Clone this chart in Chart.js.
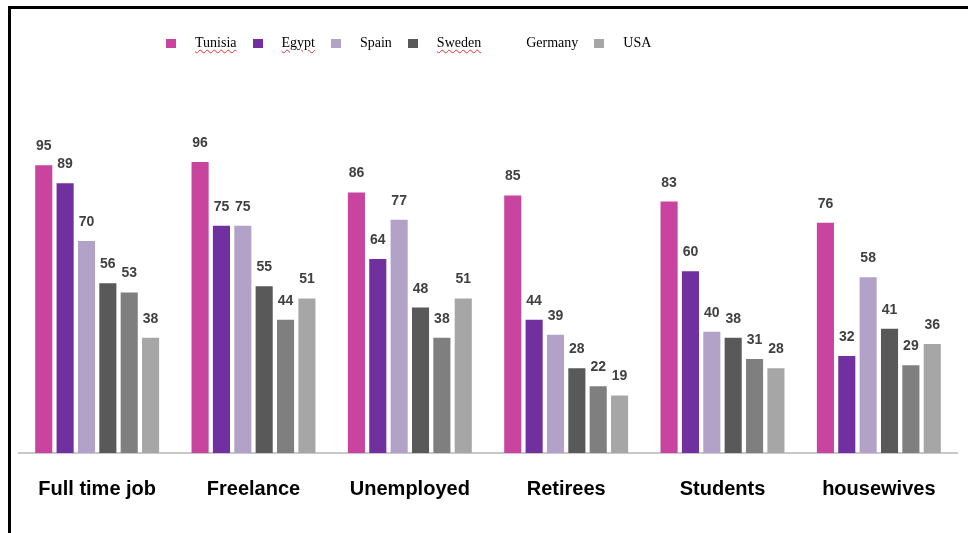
<!DOCTYPE html>
<html>
<head>
<meta charset="utf-8">
<script src="https://cdn.jsdelivr.net/npm/chart.js@4"></script>
<style>
  body { margin: 0; background: #fff; }
  #wrap { position: relative; width: 968px; height: 533px; overflow: hidden; }
  #frame { position: absolute; left: 8px; top: 6px; width: 980px; height: 540px;
           border-top: 3px solid #000; border-left: 3px solid #000; box-sizing: border-box; }
  #legend { position: absolute; left: 166px; top: 35px; display: flex; align-items: center;
            font: 14px "Liberation Serif", serif; color: #000; }
  .item { display: flex; align-items: center; margin-right: 16px; }
  .swatch { width: 10px; height: 9px; margin-right: 19px; }
  .squiggle { text-decoration: underline wavy #e03030; text-decoration-thickness: 1px; text-underline-offset: 2px; }
</style>
</head>
<body>
<div id="wrap">
  <canvas id="myChart"></canvas>
  <div id="frame"></div>
  <div id="legend"></div>
</div>
<script>
const categories = ['Full time job', 'Freelance', 'Unemployed', 'Retirees', 'Students', 'housewives']
const countries = ['Tunisia', 'Egypt', 'Spain', 'Sweden', 'Germany', 'USA']
const colors = ['#c8449f', '#7030a0', '#b3a2c7', '#595959', '#7f7f7f', '#a6a6a6']
// germany's key has no visible swatch in the legend
const swatchColors = ['#c8449f', '#7030a0', '#b3a2c7', '#595959', '#ffffff', '#a6a6a6']
const underlined = ['Tunisia', 'Egypt', 'Sweden']

const tunisia = [95, 96, 86, 85, 83, 76]
const egypt = [89, 75, 64, 44, 60, 32]
const spain = [70, 75, 77, 39, 40, 58]
const sweden = [56, 55, 48, 28, 38, 41]
const germany = [53, 44, 38, 22, 31, 29]
const usa = [38, 51, 51, 19, 28, 36]
const seriesValues = [tunisia, egypt, spain, sweden, germany, usa]

// numbers above each bar
const valueLabels = {
  id: 'valueLabels',
  afterDatasetsDraw(chart) {
    const ctx = chart.ctx
    ctx.save()
    ctx.font = 'bold 14px "Liberation Sans"'
    ctx.fillStyle = '#404040'
    ctx.textAlign = 'center'
    chart.data.datasets.forEach((ds, i) => {
      chart.getDatasetMeta(i).data.forEach((bar, j) => {
        ctx.fillText(ds.data[j], bar.x, bar.y - 15)
      })
    })
    ctx.restore()
  }
}

const ctx = document.getElementById('myChart')

const chart = new Chart(ctx, {
  type: 'bar',
  data: {
    labels: categories,
    datasets: countries.map((name, i) => ({
      label: name,
      data: seriesValues[i],
      backgroundColor: colors[i],
      barPercentage: 0.8,
      categoryPercentage: 0.82
    }))
  },
  options: {
    responsive: true,
    maintainAspectRatio: false,
    animation: false,
    layout: {
      padding: { left: 19, right: 11, top: 150, bottom: 16 }
    },
    plugins: {
      legend: { display: false },
      tooltip: { enabled: false }
    },
    scales: {
      x: {
        grid: { display: false },
        border: { display: true, color: '#c8c8c8', width: 2 },
        ticks: {
          padding: 16,
          color: '#000',
          font: { family: '"Liberation Sans"', size: 20, weight: 'bold' }
        }
      },
      y: {
        display: false,
        min: 0,
        max: 100
      }
    }
  },
  plugins: [valueLabels]
})

// legend row built from the datasets
const legend = document.getElementById('legend')
chart.data.datasets.forEach((ds, i) => {
  const item = document.createElement('div')
  item.className = 'item'
  const sw = document.createElement('span')
  sw.className = 'swatch'
  sw.style.background = swatchColors[i]
  const txt = document.createElement('span')
  txt.textContent = ds.label
  if (underlined.includes(ds.label)) txt.className = 'squiggle'
  item.appendChild(sw)
  item.appendChild(txt)
  legend.appendChild(item)
})
</script>
</body>
</html>
